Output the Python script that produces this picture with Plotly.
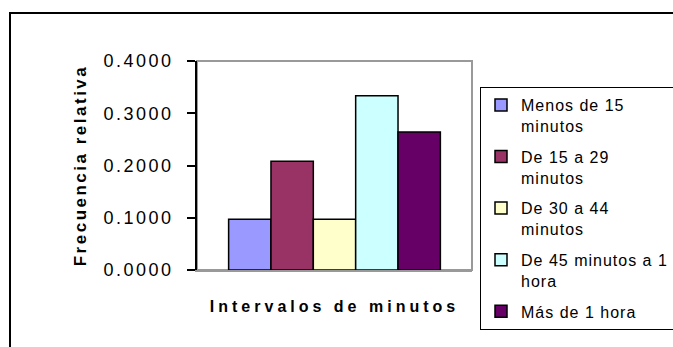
import plotly.graph_objects as go

# datos
intervalos = ["Menos de 15<br>minutos", "De 15 a 29<br>minutos", "De 30 a 44<br>minutos",
              "De 45 minutos a 1<br>hora", "Más de 1 hora"]
frecuencia = [0.0972, 0.2083, 0.0972, 0.3333, 0.2639]
colores = ["#9999FF", "#993366", "#FFFFCC", "#CCFFFF", "#660066"]
tick_vals = [0.0, 0.1, 0.2, 0.3, 0.4]
tick_text = ["0.0000", "0.1000", "0.2000", "0.3000", "0.4000"]

FONT = "Liberation Sans, Arial, sans-serif"


def spaced(txt, px):
    lines = txt.split("<br>")
    return "<br>".join('<span style="letter-spacing:%spx">%s</span>' % (px, l) for l in lines)


fig = go.Figure()
for i, (nombre, val, col) in enumerate(zip(intervalos, frecuencia, colores)):
    fig.add_trace(go.Bar(
        x=[""], y=[val], name=spaced(nombre, 1), legendgroup="g%d" % i,
        marker=dict(color=col, line=dict(color="black", width=1.5)),
    ))

fig.update_layout(
    width=673, height=347,
    margin=dict(l=0, r=0, t=0, b=0, autoexpand=False),
    paper_bgcolor="white", plot_bgcolor="white",
    font=dict(family=FONT, size=16, color="black"),
    barmode="group", bargap=0.23, bargroupgap=0,
    showlegend=True,
    legend=dict(
        x=480 / 673, y=1 - 87 / 347, xanchor="left", yanchor="top",
        bordercolor="black", borderwidth=1, bgcolor="white",
        font=dict(family=FONT, size=16, color="black"),
        valign="top", entrywidth=220, tracegroupgap=7,
    ),
    xaxis=dict(
        domain=[197 / 673, 472 / 673],
        showticklabels=False, ticks="",
        showline=True, linecolor="#999999", linewidth=2,
        title=dict(text=spaced("<b>Intervalos de minutos</b>", 4),
                   font=dict(size=16), standoff=30),
    ),
    yaxis=dict(
        domain=[77 / 347, 286 / 347], range=[0, 0.4],
        tickvals=tick_vals, ticktext=[spaced(t, 2.5) for t in tick_text],
        ticks="outside", ticklen=8, tickwidth=1.5, tickcolor="black",
        ticklabelstandoff=10,
        showline=True, linecolor="black", linewidth=1.5,
        showgrid=False, zeroline=False,
        tickfont=dict(size=18),
        title=dict(text=spaced("<b>Frecuencia relativa</b>", 2.5),
                   font=dict(size=17), standoff=13),
    ),
    shapes=[
        # marco gris del area de trazado
        dict(type="rect", xref="x domain", yref="y domain", x0=0, x1=1, y0=0, y1=1,
             line=dict(color="#999999", width=2), layer="below"),
        # marco exterior del grafico
        dict(type="rect", xref="paper", yref="paper", x0=10 / 673, x1=1.05,
             y0=-0.05, y1=1 - 13 / 347, line=dict(color="black", width=2)),
    ],
)

fig.write_html("out.html", config={"displayModeBar": False},
               post_script="document.body.style.margin='0';")
